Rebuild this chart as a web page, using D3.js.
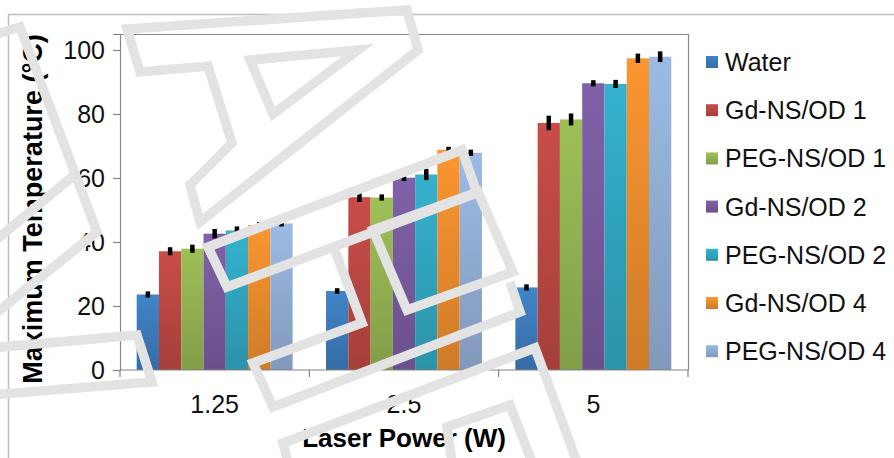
<!DOCTYPE html>
<html>
<head>
<meta charset="utf-8">
<script src="https://cdn.jsdelivr.net/npm/d3@7"></script>
<style>
  body { margin: 0; background: #fff; }
  text { font-family: "Liberation Sans", Arial, sans-serif; }
</style>
</head>
<body>
<script>
var W = 894, H = 458;
var margin = {top: 34, right: 206, bottom: 88, left: 120};

// data
var powers = ["1.25", "2.5", "5"];
var seriesNames = ["Water", "Gd-NS/OD 1", "PEG-NS/OD 1", "Gd-NS/OD 2", "PEG-NS/OD 2", "Gd-NS/OD 4", "PEG-NS/OD 4"];
var seriesColors = ["#3f7fc2", "#c24a45", "#98b955", "#7c5ea3", "#33acc7", "#f2912f", "#97b4dc"];
var water    = [23.6, 24.7, 25.8];
var gdOD1    = [37.1, 54.0, 77.2];
var pegOD1   = [37.9, 53.9, 78.3];
var gdOD2    = [42.6, 60.1, 89.6];
var pegOD2   = [43.6, 61.1, 89.4];
var gdOD4    = [45.3, 68.8, 97.4];
var pegOD4   = [45.8, 67.9, 97.9];
var errWater  = [0.5, 0.4, 0.5];
var errGdOD1  = [0.8, 1.0, 1.8];
var errPegOD1 = [0.8, 0.5, 1.4];
var errGdOD2  = [1.0, 0.6, 0.5];
var errPegOD2 = [0.8, 1.3, 0.8];
var errGdOD4  = [0.5, 0.5, 1.0];
var errPegOD4 = [0.5, 0.5, 1.2];
var yTicks = [0, 20, 40, 60, 80, 100];

// watermark outlines lying over the picture (not data)
var watermark = [
    {closed: true,  pts: [[127,29],[407,10],[418,50],[200,222],[190,185],[232,143],[208,66],[140,72]]},
    {closed: true,  pts: [[250,60],[358,50],[273,114]]},
    {closed: true,  pts: [[208,247],[462,150],[477,193],[227,287]]},
    {closed: true,  pts: [[373,230],[478,192],[513,272],[407,310]]},
    {closed: false, pts: [[333,245],[362,323],[253,363],[273,407],[520,312],[510,282]]},
    {closed: false, pts: [[-10,36],[20,27],[97,232],[-10,318]]},
    {closed: false, pts: [[-10,245],[78,172]]},
    {closed: false, pts: [[-10,348],[137,335],[152,382],[-10,395]]},
    {closed: false, pts: [[290,470],[283,443],[535,348],[580,470]]},
    {closed: false, pts: [[453,470],[447,427],[510,405],[535,470]]}
];

var allValues = [water, gdOD1, pegOD1, gdOD2, pegOD2, gdOD4, pegOD4];
var allErrors = [errWater, errGdOD1, errPegOD1, errGdOD2, errPegOD2, errGdOD4, errPegOD4];

var rows = [];
seriesNames.forEach(function (s, i) {
    powers.forEach(function (p, j) {
        rows.push({series: s, idx: i, power: p, value: allValues[i][j], err: allErrors[i][j]});
    });
});

var svg = d3.select('body').append('svg')
    .attr('width', W)
    .attr('height', H);

svg.append('rect').attr('width', W).attr('height', H).attr('fill', '#fff');

// outer chart border
svg.append('rect')
    .attr('x', 8.5).attr('y', 14.5)
    .attr('width', W + 20).attr('height', H + 20)
    .attr('fill', 'none')
    .attr('stroke', '#bdbdbd')
    .attr('stroke-width', 1.5);

// gradients for bars
var defs = svg.append('defs');
seriesColors.forEach(function (c, i) {
    var g = defs.append('linearGradient')
        .attr('id', 'grad' + i)
        .attr('x1', 0).attr('y1', 0).attr('x2', 0).attr('y2', 1);
    g.append('stop').attr('offset', '0%').attr('stop-color', d3.color(c).brighter(0.1));
    g.append('stop').attr('offset', '100%').attr('stop-color', d3.color(c).darker(0.45));
});

var x0 = d3.scaleBand()
    .domain(powers)
    .range([margin.left, W - margin.right]);

var x1 = d3.scaleBand()
    .domain(seriesNames)
    .range([0, x0.bandwidth()])
    .paddingInner(0)
    .paddingOuter(0.75);

var y = d3.scaleLinear()
    .domain([0, 105])
    .range([H - margin.bottom, margin.top]);

var plotRight = W - margin.right;
var plotBottom = H - margin.bottom;

// plot box (top and right)
svg.append('path')
    .attr('d', 'M' + margin.left + ',' + (margin.top + 0.5) + 'H' + (plotRight + 0.5) + 'V' + plotBottom)
    .attr('fill', 'none')
    .attr('stroke', '#868686')
    .attr('stroke-width', 1.2);

// bars
svg.append('g').selectAll('rect')
    .data(rows)
    .enter()
    .append('rect')
    .attr('x', function (d) { return x0(d.power) + x1(d.series); })
    .attr('y', function (d) { return y(d.value); })
    .attr('width', x1.bandwidth())
    .attr('height', function (d) { return y(0) - y(d.value); })
    .attr('fill', function (d) { return 'url(#grad' + d.idx + ')'; });

// error bars
svg.append('g').selectAll('line')
    .data(rows)
    .enter()
    .append('line')
    .attr('x1', function (d) { return x0(d.power) + x1(d.series) + x1.bandwidth() / 2; })
    .attr('x2', function (d) { return x0(d.power) + x1(d.series) + x1.bandwidth() / 2; })
    .attr('y1', function (d) { return y(d.value - d.err) + 1.5; })
    .attr('y2', function (d) { return y(d.value + d.err) - 1.5; })
    .attr('stroke', '#000')
    .attr('stroke-width', 4.5);

// y axis
var yAxis = d3.axisLeft(y).tickValues(yTicks).tickSize(7).tickPadding(8);
var gy = svg.append('g')
    .attr('transform', 'translate(' + margin.left + ',0)')
    .call(yAxis);
gy.select('.domain').attr('stroke', '#868686').attr('stroke-width', 1.2);
gy.selectAll('.tick line').attr('stroke', '#868686').attr('stroke-width', 1.2);
gy.selectAll('.tick text')
    .attr('fill', '#111')
    .style('font-size', '25px')
    .style('font-family', '"Liberation Sans", Arial, sans-serif');

// x axis: ticks between categories
var xAxisLine = svg.append('g').attr('class', 'xaxis');
xAxisLine.append('line')
    .attr('x1', margin.left).attr('x2', plotRight)
    .attr('y1', plotBottom).attr('y2', plotBottom)
    .attr('stroke', '#868686').attr('stroke-width', 1.2);
var boundaries = powers.map(function (p) { return x0(p); }).concat([plotRight]);
xAxisLine.selectAll('.xtick')
    .data(boundaries)
    .enter()
    .append('line')
    .attr('class', 'xtick')
    .attr('x1', function (d) { return d; })
    .attr('x2', function (d) { return d; })
    .attr('y1', plotBottom).attr('y2', plotBottom + 7)
    .attr('stroke', '#868686').attr('stroke-width', 1.2);
xAxisLine.selectAll('.xlabel')
    .data(powers)
    .enter()
    .append('text')
    .attr('class', 'xlabel')
    .attr('x', function (d) { return x0(d) + x0.bandwidth() / 2; })
    .attr('y', 413)
    .attr('text-anchor', 'middle')
    .attr('fill', '#111')
    .style('font-size', '25px')
    .text(function (d) { return d; });

// axis titles
svg.append('text')
    .attr('x', (margin.left + plotRight) / 2)
    .attr('y', 447)
    .attr('text-anchor', 'middle')
    .style('font-size', '26px')
    .style('font-weight', 'bold')
    .text('Laser Power (W)');

svg.append('text')
    .attr('transform', 'translate(42,209) rotate(-90)')
    .attr('text-anchor', 'middle')
    .style('font-size', '27px')
    .style('font-weight', 'bold')
    .text('Maximum Temperature (°C)');

// legend
var legend = svg.append('g').selectAll('g')
    .data(seriesNames)
    .enter()
    .append('g')
    .attr('transform', function (d, i) { return 'translate(706,' + (62 + i * 48.2) + ')'; });
legend.append('rect')
    .attr('x', 0).attr('y', -6)
    .attr('width', 12).attr('height', 12)
    .attr('fill', function (d, i) { return 'url(#grad' + i + ')'; });
legend.append('text')
    .attr('x', 19)
    .attr('y', 9)
    .attr('fill', '#111')
    .style('font-size', '25px')
    .text(function (d) { return d; });

// watermark outlines on top
var line = d3.line();
svg.append('g').selectAll('path')
    .data(watermark)
    .enter()
    .append('path')
    .attr('d', function (d) { return line(d.pts) + (d.closed ? 'Z' : ''); })
    .attr('fill', 'none')
    .attr('stroke', '#e3e3e3')
    .attr('stroke-width', 9.5)
    .attr('stroke-linejoin', 'miter');
</script>
</body>
</html>
